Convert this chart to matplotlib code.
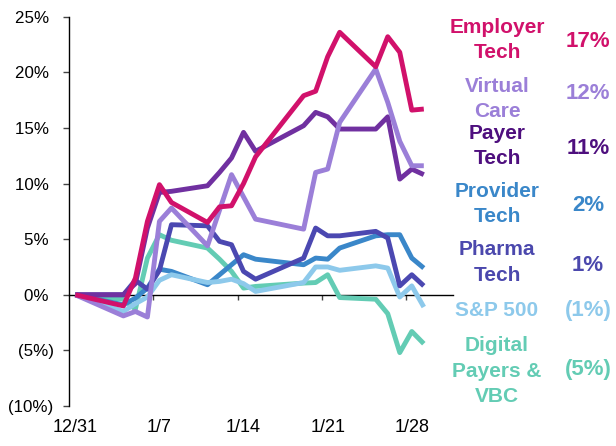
import matplotlib
matplotlib.use("Agg")
import matplotlib.pyplot as plt
import pandas as pd
import numpy as np

plt.rcParams['font.family'] = ['Liberation Sans', 'DejaVu Sans']

# ---- data ----
dates = ["2020-12-31", "2021-01-04", "2021-01-05", "2021-01-06", "2021-01-07",
         "2021-01-08", "2021-01-11", "2021-01-12", "2021-01-13", "2021-01-14",
         "2021-01-15", "2021-01-19", "2021-01-20", "2021-01-21", "2021-01-22",
         "2021-01-25", "2021-01-26", "2021-01-27", "2021-01-28", "2021-01-29"]

employer_tech = [0, -1.0, 1.5, 6.6, 9.9, 8.3, 6.5, 7.9, 8.0, 10.0,
                 12.4, 17.9, 18.3, 21.4, 23.6, 20.5, 23.2, 21.8, 16.6, 16.7]
virtual_care = [0, -1.9, -1.5, -2.0, 6.6, 7.8, 4.4, 7.6, 10.8, 8.8,
                6.8, 5.9, 11.0, 11.3, 15.5, 20.3, 17.3, 13.8, 11.6, 11.6]
payer_tech = [0, 0.0, 1.0, 6.0, 9.2, 9.3, 9.8, 11.0, 12.3, 14.6,
              12.9, 15.2, 16.4, 16.0, 14.9, 14.9, 16.0, 10.4, 11.3, 10.8]
provider_tech = [0, -0.9, -0.3, 0.6, 2.3, 2.1, 0.9, 1.8, 2.7, 3.6,
                 3.2, 2.7, 3.3, 3.2, 4.2, 5.3, 5.4, 5.4, 3.3, 2.4]
pharma_tech = [0, 0.0, 1.3, 0.5, 2.2, 6.3, 6.2, 4.8, 4.5, 2.1,
               1.4, 3.3, 6.0, 5.3, 5.3, 5.7, 5.1, 0.8, 1.8, 0.8]
sp500 = [0, -1.5, -0.8, -0.2, 1.3, 1.8, 1.1, 1.2, 1.4, 1.0,
         0.3, 1.1, 2.5, 2.5, 2.2, 2.6, 2.4, -0.2, 0.8, -1.1]
digital_payers_vbc = [0, -0.4, -1.3, 3.3, 5.4, 4.9, 4.2, 3.2, 2.1, 0.6,
                      0.75, 1.05, 1.1, 1.8, -0.25, -0.4, -1.7, -5.2, -3.3, -4.4]

x_tick_labels = ["12/31", "1/7", "1/14", "1/21", "1/28"]
y_tick_values = [-10, -5, 0, 5, 10, 15, 20, 25]
y_tick_labels = ["(10%)", "(5%)", "0% ", "5% ", "10% ", "15% ", "20% ", "25% "]

label_names = [["Employer", "Tech"], ["Virtual", "Care"], ["Payer", "Tech"],
               ["Provider", "Tech"], ["Pharma", "Tech"], ["S&P 500"],
               ["Digital", "Payers &", "VBC"]]
final_returns = ["17%", "12%", "11%", "2%", "1%", "(1%)", "(5%)"]

# ---- styling ----
W, H = 616, 446
line_colors = {
    "employer": "#D1116B", "virtual": "#9B7FD8", "payer": "#7030A0",
    "provider": "#3A87C9", "pharma": "#4B48B1", "sp": "#8DC9EB",
    "digital": "#63CCB4",
}
text_colors = ["#D1116B", "#9B7FD8", "#4E0F7E", "#3A87C9", "#4B48AD",
               "#8DC9EB", "#63CCB4"]

fig = plt.figure(figsize=(W / 100, H / 100), dpi=100)
ax = fig.add_axes([69.3 / W, 40 / H, 383.7 / W, 389.3 / H])

base = pd.Timestamp(dates[0])
day_offsets = (pd.to_datetime(dates) - base).days.to_numpy()
xd = day_offsets + 0.5  # each date drawn in the middle of its day slot

lw = 3.5
order = [
    (digital_payers_vbc, "digital"),
    (provider_tech, "provider"),
    (sp500, "sp"),
    (pharma_tech, "pharma"),
    (payer_tech, "payer"),
    (virtual_care, "virtual"),
    (employer_tech, "employer"),
]
for vals, key in order:
    ax.plot(xd, vals, color=line_colors[key], lw=lw, solid_joinstyle='round',
            solid_capstyle='butt', clip_on=False)

ax.set_xlim(0, 31.93)
ax.set_ylim(-10, 25)

for s in ["top", "right", "bottom"]:
    ax.spines[s].set_visible(False)
ax.spines["left"].set_color("black")
ax.spines["left"].set_linewidth(1.0)

week_ticks = np.array([0, 7, 14, 21, 28])
ax.set_xticks(week_ticks + 0.5)
ax.set_xticklabels(x_tick_labels, fontsize=13)
ax.tick_params(axis='x', length=0, pad=9.0, colors='black')

ax.set_yticks(y_tick_values)
ax.set_yticklabels(y_tick_labels, fontsize=12.2)
ax.tick_params(axis='y', length=4.3, width=1.0, color='#444444', pad=7.0,
               labelcolor='black', direction='out')

sec = ax.secondary_xaxis(0, transform=ax.transData)
sec.set_xticks(week_ticks[1:])
sec.set_xticklabels([])
sec.tick_params(direction='out', length=3.5, width=1.0, color='#444444')
sec.spines['bottom'].set_color('black')
sec.spines['bottom'].set_linewidth(1.0)

# ---- right-side labels ----
label_baselines = [[33.3, 57.7], [91.7, 117.3], [139.3, 164.0], [197.3, 222.3],
                   [255.0, 280.7], [316.0], [350.7, 376.7, 401.7]]
pct_baselines = [46.7, 99.3, 154.0, 210.7, 270.7, 316.0, 375.0]
label_x = 497
pct_x = 588

for names, ys, col, pct, py in zip(label_names, label_baselines, text_colors,
                                   final_returns, pct_baselines):
    for nm, yb in zip(names, ys):
        fig.text(label_x / W, 1 - yb / H, nm, color=col, fontsize=15,
                 fontweight='bold', ha='center', va='baseline')
    fig.text(pct_x / W, 1 - py / H, pct, color=col, fontsize=16,
             fontweight='bold', ha='center', va='baseline')

fig.savefig("out.png", dpi=100)
